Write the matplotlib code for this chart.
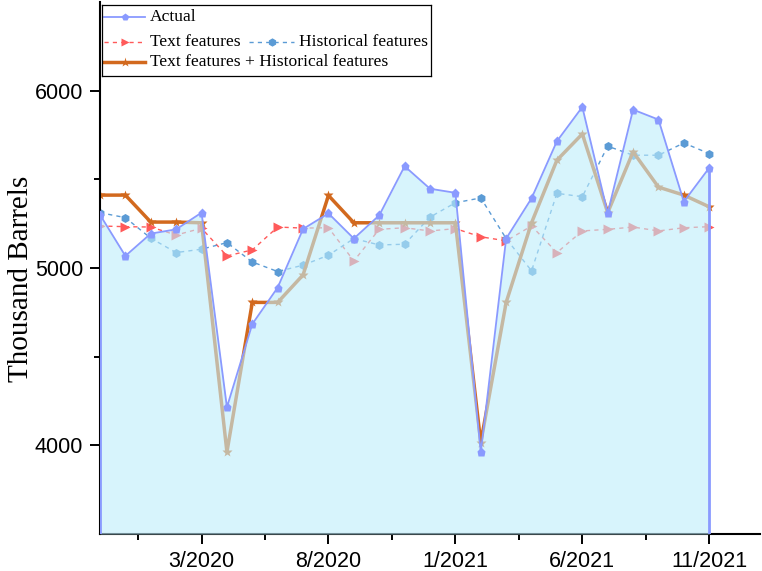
import numpy as np
import matplotlib.pyplot as plt

# ── DATA ──────────────────────────────────────────────────────────────────────
months = ["11/2019", "12/2019", "1/2020", "2/2020", "3/2020", "4/2020", "5/2020",
          "6/2020", "7/2020", "8/2020", "9/2020", "10/2020", "11/2020", "12/2020",
          "1/2021", "2/2021", "3/2021", "4/2021", "5/2021", "6/2021", "7/2021",
          "8/2021", "9/2021", "10/2021", "11/2021"]

actual = [5300, 5068, 5194, 5218, 5312, 4215, 4684, 4890, 5220, 5308, 5166, 5297,
          5574, 5447, 5424, 3960, 5166, 5393, 5715, 5908, 5310, 5893, 5837, 5374, 5565]

text_feat = [5237, 5233, 5231, 5186, 5224, 5068, 5102, 5231, 5225, 5227, 5040, 5218,
             5227, 5209, 5222, 5176, 5153, 5237, 5087, 5209, 5218, 5231, 5209, 5227, 5233]

hist_feat = [5312, 5284, 5168, 5087, 5106, 5143, 5034, 4980, 5016, 5072, 5166, 5130,
             5134, 5287, 5368, 5395, 5166, 4984, 5421, 5402, 5687, 5636, 5636, 5705, 5645]

combo = [5411, 5411, 5259, 5259, 5255, 3962, 4806, 4806, 4961, 5409, 5255, 5255,
         5255, 5255, 5255, 4015, 4806, 5255, 5608, 5756, 5312, 5655, 5456, 5411, 5345]

# ── STYLE ─────────────────────────────────────────────────────────────────────
ACT_COL   = "#8a9aff"
TEXT_COL  = "#ff5a5a"
HIST_COL  = "#5b9bd5"
COMBO_COL = "#d2691e"
FILL_COL  = "#bdedfb"
Y_MIN, Y_MAX = 3500, 6500

plt.rcParams["font.family"] = ["Liberation Sans", "DejaVu Sans"]
SERIF = ["Liberation Serif", "DejaVu Serif"]

x = np.arange(len(months))

fig = plt.figure(figsize=(7.62, 5.71), dpi=100)
ax = fig.add_axes([100 / 762, 37 / 571, 660 / 762, 532 / 571])

# lines that sit under the translucent area
ax.plot(x, text_feat, color=TEXT_COL, lw=1.0, ls=(0, (3, 3)),
        marker=">", ms=6.5, mec="none", zorder=2)
ax.plot(x, hist_feat, color=HIST_COL, lw=1.0, ls=(0, (3, 3)),
        marker="h", ms=6.5, mec="none", zorder=2)
ax.plot(x, combo, color=COMBO_COL, lw=2.5,
        marker="*", ms=7, mec="none", zorder=2)

# actual: filled area on top, then line
ax.fill_between(x, actual, Y_MIN, color=FILL_COL, alpha=0.6, lw=0, zorder=3)
ax.vlines([x[0], x[-1]], Y_MIN, [actual[0], actual[-1]], color=ACT_COL, lw=2, zorder=4)
ax.plot(x, actual, color=ACT_COL, lw=1.3, marker="p", ms=6.5, mec="none", zorder=4)

# ── AXES ──────────────────────────────────────────────────────────────────────
ax.set_xlim(0, 26)
ax.set_ylim(Y_MIN, Y_MAX)
ax.set_xticks(x[4::5])
ax.set_xticklabels(months[4::5])
ax.set_xticks(x[4::5] - 2.5, minor=True)
ax.set_yticks([4000, 5000, 6000])
ax.set_yticks([4500, 5500], minor=True)

for s in ["top", "right"]:
    ax.spines[s].set_visible(False)
for s in ["left", "bottom"]:
    ax.spines[s].set_linewidth(1.5)

ax.tick_params(which="major", length=7, width=1.4, labelsize=15.5, pad=5)
ax.tick_params(which="minor", length=4.5, width=1.4)

ax.set_ylabel("Thousand Barrels", family=SERIF, fontsize=21)
ax.yaxis.set_label_coords(-0.1, 0.48)

# ── LEGEND (drawn by hand, Origin-style layout) ───────────────────────────────
lg = fig.add_axes([102 / 762, 1 - 76 / 571, 329 / 762, 71 / 571], zorder=10)
lg.set_xlim(0, 329)
lg.set_ylim(71, 0)
lg.set_xticks([])
lg.set_yticks([])
for s in lg.spines.values():
    s.set_linewidth(0.9)

entries = [
    (2, 43, 12.3, ACT_COL, "-", 1.3, "p", 5.5, "Actual"),
    (2, 43, 36.7, TEXT_COL, (0, (3, 3)), 1.0, ">", 6, "Text features"),
    (147, 192, 36.7, HIST_COL, (0, (3, 3)), 1.0, "h", 6, "Historical features"),
    (2, 43, 57.3, COMBO_COL, "-", 2.5, "*", 6.5, "Text features + Historical features"),
]
for x0, x1, yy, col, ls, lw, mk, ms, lab in entries:
    lg.plot([x0, x1], [yy, yy], color=col, ls=ls, lw=lw)
    lg.plot([(x0 + x1) / 2], [yy], color=col, marker=mk, ms=ms, mec="none")
    lg.text(x1 + 5, yy, lab, family=SERIF, fontsize=12.6, va="center", ha="left")

fig.savefig("out.png", dpi=100)
